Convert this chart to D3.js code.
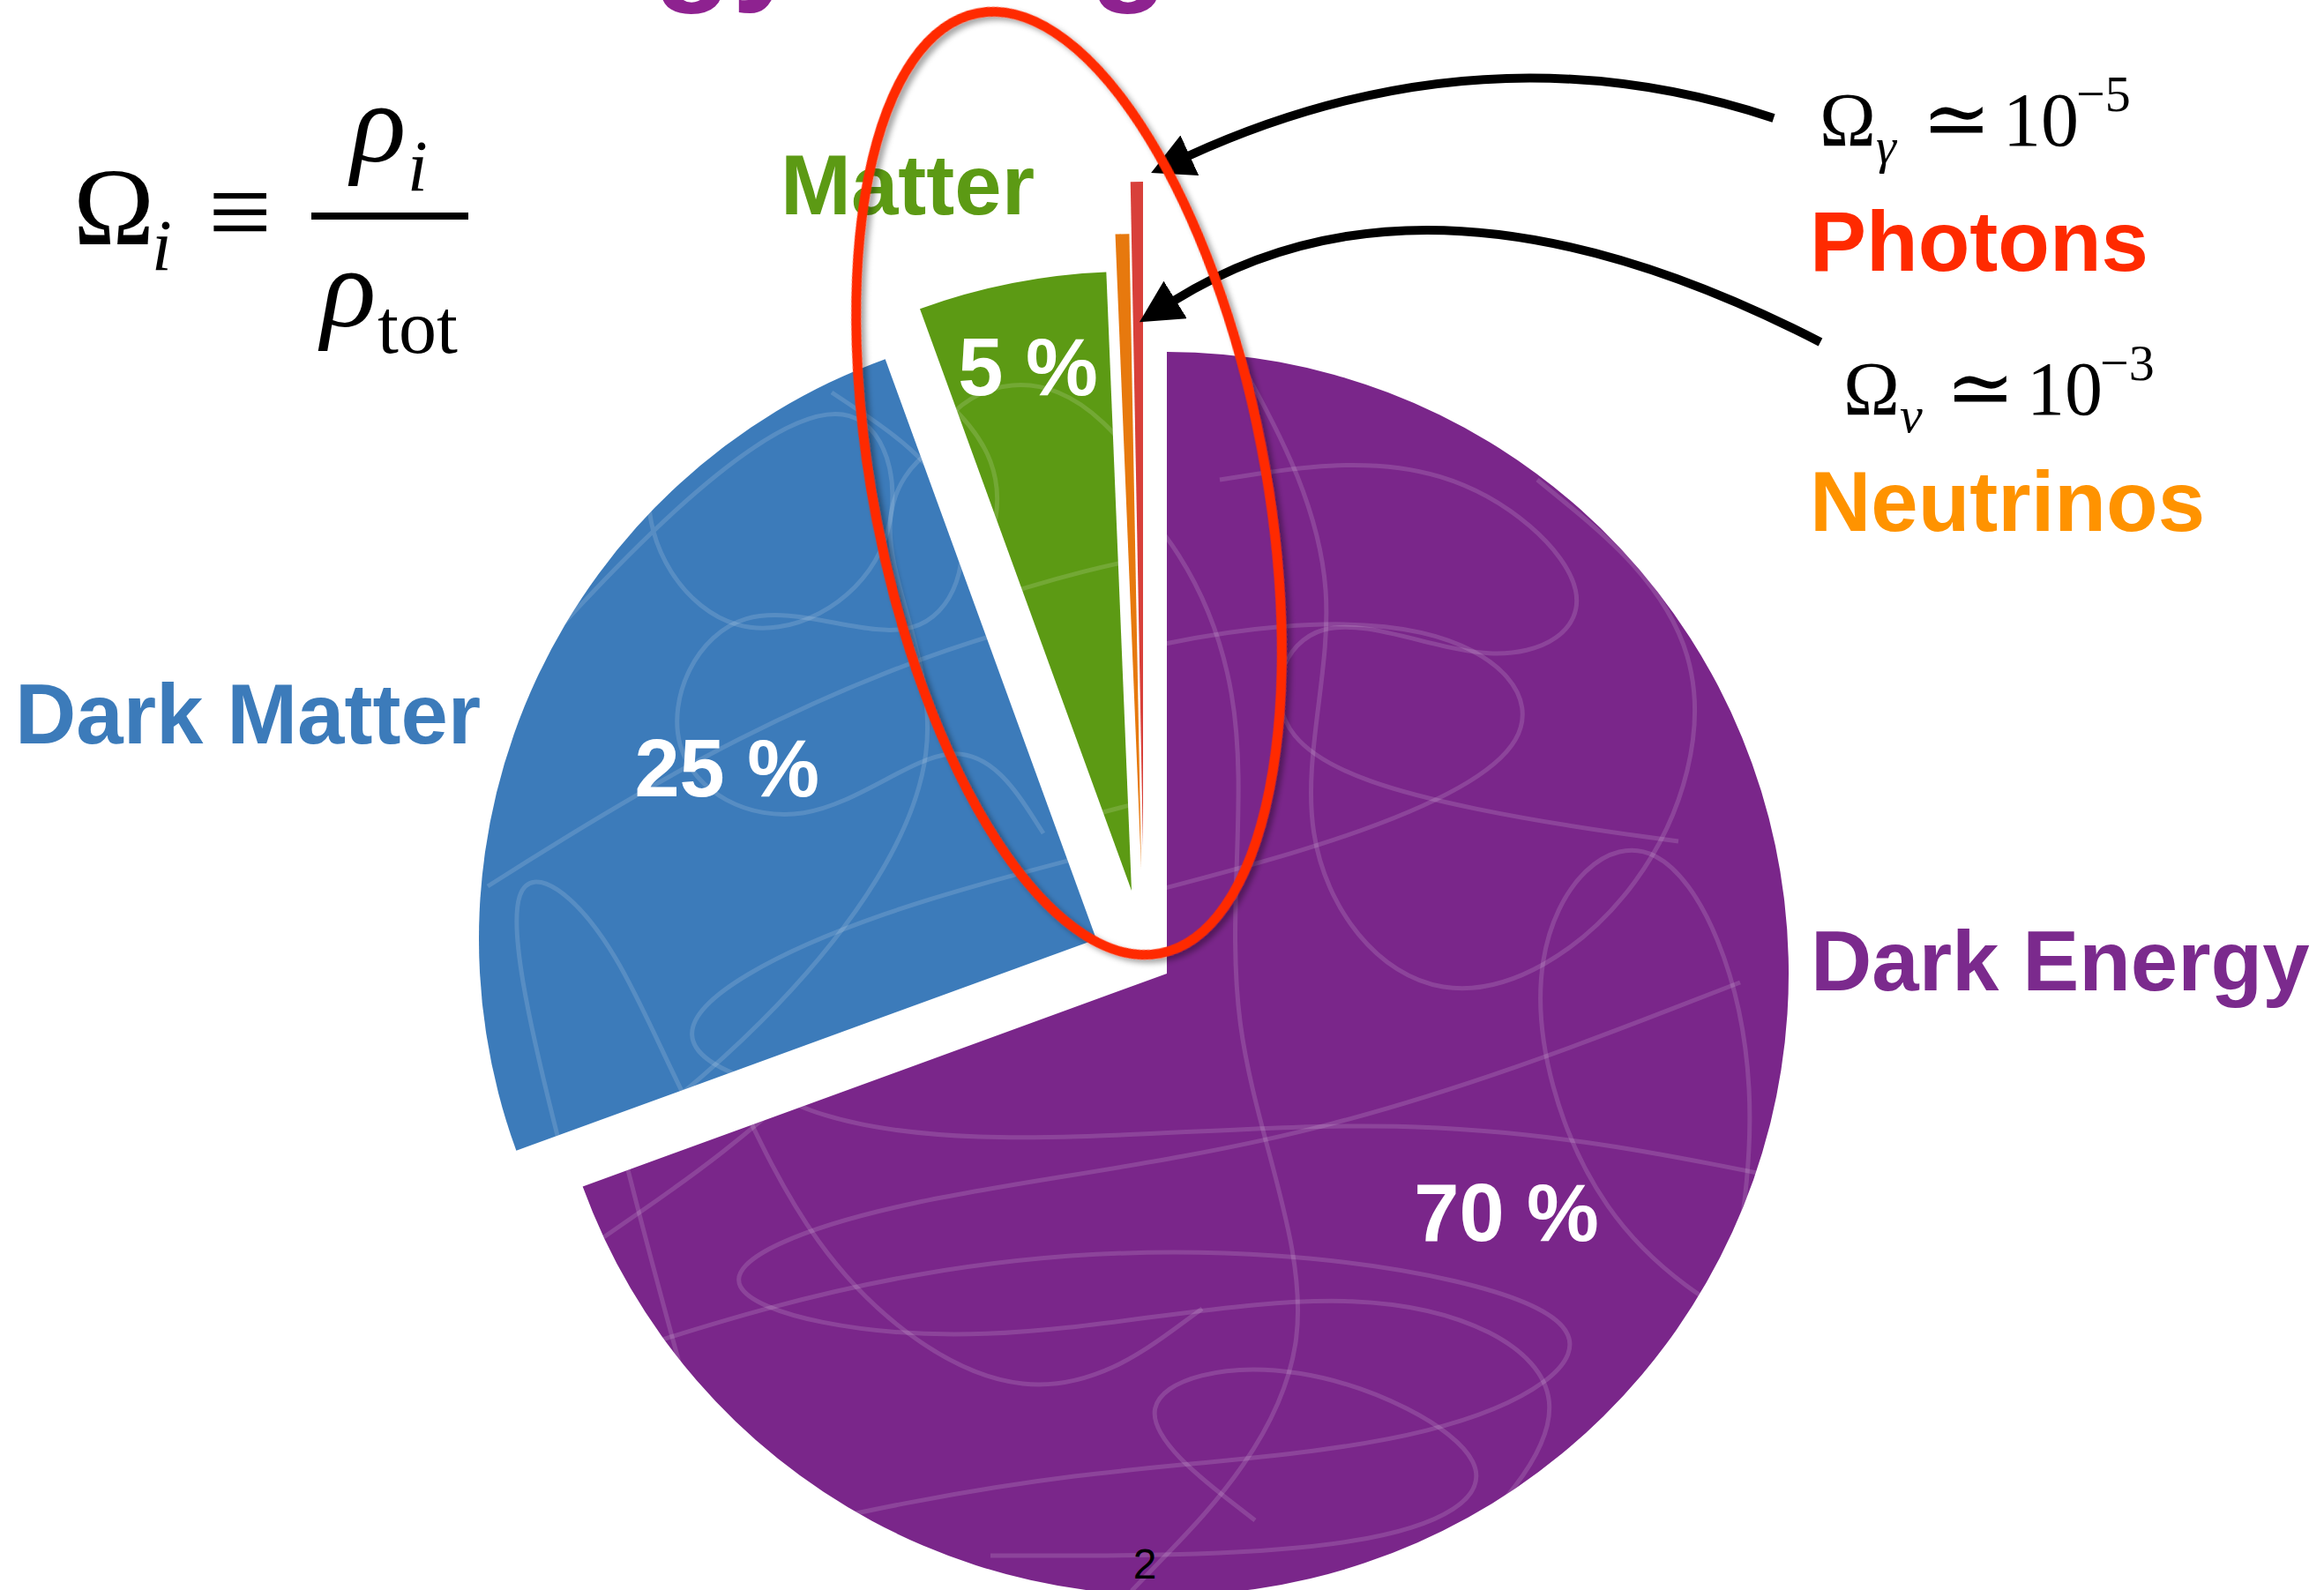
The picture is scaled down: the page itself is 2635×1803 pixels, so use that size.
<!DOCTYPE html>
<html>
<head>
<meta charset="utf-8">
<script src="https://cdn.jsdelivr.net/npm/d3@7/dist/d3.min.js"></script>
<style>
  html, body { margin: 0; padding: 0; background: #fff; overflow: hidden; }
  svg { display: block; }
</style>
</head>
<body>
<svg id="chart"></svg>
<script>
// slices, clockwise from 12 o'clock
const names = ["Dark Energy", "Dark Matter", "Matter", "Neutrinos", "Photons"];
// shares as drawn (the neutrino / photon slivers are enlarged in the picture)
const shares = [69.4, 25, 4.9, 0.35, 0.3];
const percentLabels = ["70 %", "25 %", "5 %", "", ""];
// Omega_x ~ 10^exp for the two slivers
const omegaSymbols = ["γ", "ν"];
const omegaExponents = ["−5", "−3"];
const title = "Energy Budget";

const width = 2635, height = 1803;
const center = [1323, 1104];
const colors = ["#7a268a", "#3c7bba", "#5c9a14", "#e7790e", "#d8403a"];
const labelColors = ["#7b2a8d", "#3c7bba", "#5c9a14", "#ff9300", "#ff2a00"];
const radii = [705, 700, 702, 721, 756];
const shifts = [[0, 0], [-80, -39], [-40, -94], [-29, -118], [-27, -142]];
const pctRadius = [470, 462, 607];
const labelPos = [[2053, 1123], [17, 843], [885, 243], [2052, 602], [2052, 307]];

const sans = "'Liberation Sans', Arial, Helvetica, sans-serif";
const serif = "'Liberation Serif', 'DejaVu Serif', 'Times New Roman', serif";

// background scribble texture (decoration, pie-local coords)
const scribbles = [
  [[-690, -60], [-420, -230], [-60, -380], [330, -420], [470, -260], [160, -130], [-260, -40], [-560, 120], [-250, 210], [280, 150], [690, 230]],
  [[-620, 430], [-300, 330], [120, 300], [560, 390], [330, 540], [-120, 560], [-480, 640]],
  [[80, -700], [220, -440], [120, -150], [300, 80], [560, -80], [640, -380], [420, -560]],
  [[-640, 300], [-380, 120], [-120, -220], [-300, -500], [-80, -640], [120, -330], [40, 60], [220, 430], [-40, 700]],
  [[280, 700], [520, 470], [240, 330], [-220, 440], [-590, 360], [-320, 250], [160, 200], [650, 10]],
  [[-700, -250], [-480, -500], [-250, -660], [-200, -420], [-420, -300], [-560, -520], [-380, -700]],
  [[-520, 560], [-620, 200], [-690, -120], [-540, -20], [-420, 330], [-150, 520], [40, 380]],
  [[600, 520], [700, 120], [560, -220], [380, -40], [480, 300], [700, 420]],
  [[-300, -620], [-120, -500], [-180, -300], [-420, -420], [-520, -200], [-330, -100], [-150, -260], [-60, -120]],
  [[60, -560], [320, -600], [520, -420], [380, -330], [150, -440], [90, -250], [360, -180], [580, -150]],
  [[100, 620], [-80, 480], [140, 420], [420, 560], [260, 660], [-200, 660]]
];

const svg = d3.select("#chart").attr("width", width).attr("height", height);
const defs = svg.append("defs");

const shadow = defs.append("filter").attr("id", "shadow")
  .attr("x", "-10%").attr("y", "-10%").attr("width", "120%").attr("height", "120%");
shadow.append("feDropShadow").attr("dx", 4).attr("dy", 5)
  .attr("stdDeviation", 3).attr("flood-color", "#000").attr("flood-opacity", 0.35);

defs.append("marker")
  .attr("id", "head")
  .attr("markerUnits", "userSpaceOnUse")
  .attr("viewBox", "0 -25 48 50")
  .attr("refX", 2).attr("refY", 0)
  .attr("markerWidth", 48).attr("markerHeight", 50)
  .attr("orient", "auto")
  .append("path")
  .attr("d", "M0,-25L48,0L0,25Z")
  .attr("fill", "#000");

// title (only descenders visible at the top edge)
const titleEl = svg.append("text")
  .attr("y", -15)
  .attr("font-family", sans)
  .attr("font-weight", "bold")
  .attr("font-size", 146)
  .attr("fill", "#8e2290")
  .text(title);
const gX = titleEl.node().getStartPositionOfChar(4).x;
titleEl.attr("x", 741 - gX);

// pie
const pie = d3.pie().sort(null).value((d) => d);
const arcs = pie(shares);
const line = d3.line().curve(d3.curveBasis);

const slices = svg.append("g");
arcs.forEach((a, i) => {
  const arc = d3.arc().innerRadius(0).outerRadius(radii[i]);
  const g = slices.append("g")
    .attr("transform", `translate(${center[0] + shifts[i][0]},${center[1] + shifts[i][1]})`);
  defs.append("clipPath").attr("id", `clip${i}`)
    .append("path").attr("d", arc(a));
  g.append("path").attr("d", arc(a)).attr("fill", colors[i]);
  if (i < 3) {
    g.append("g").attr("clip-path", `url(#clip${i})`)
      .selectAll("path")
      .data(scribbles)
      .join("path")
      .attr("d", line)
      .attr("fill", "none")
      .attr("stroke", "#fff")
      .attr("stroke-opacity", 0.14)
      .attr("stroke-width", 5);
  }
  if (percentLabels[i]) {
    const mid = (a.startAngle + a.endAngle) / 2;
    g.append("text")
      .attr("x", pctRadius[i] * Math.sin(mid))
      .attr("y", -pctRadius[i] * Math.cos(mid))
      .attr("dy", "0.36em")
      .attr("text-anchor", "middle")
      .attr("font-family", sans)
      .attr("font-weight", "bold")
      .attr("font-size", 92)
      .attr("fill", "#fff")
      .text(percentLabels[i]);
  }
});

// category labels
svg.append("g").selectAll("text")
  .data(names)
  .join("text")
  .attr("x", (d, i) => labelPos[i][0])
  .attr("y", (d, i) => labelPos[i][1])
  .attr("font-family", sans)
  .attr("font-weight", "bold")
  .attr("font-size", 96)
  .attr("fill", (d, i) => labelColors[i])
  .text((d) => d);

// Omega labels for photons and neutrinos
const omegaPos = [[2063, 165], [2090, 470]];
omegaSymbols.forEach((s, k) => {
  const [x0, y0] = omegaPos[k];
  const t = svg.append("text")
    .attr("font-family", serif)
    .attr("font-size", 86)
    .attr("fill", "#000");
  t.append("tspan").attr("x", x0).attr("y", y0).text("Ω");
  t.append("tspan").attr("x", x0 + 64).attr("y", y0 + 20)
    .attr("font-size", 58).attr("font-style", "italic").text(s);
  t.append("tspan").attr("x", x0 + 116).attr("y", y0 + 2)
    .attr("font-size", 94).text("≃");
  t.append("tspan").attr("x", x0 + 208).attr("y", y0).text("10");
  t.append("tspan").attr("x", x0 + 291).attr("y", y0 - 39)
    .attr("font-size", 58).text(omegaExponents[k]);
});

// definition  Omega_i = rho_i / rho_tot
const f = svg.append("g").attr("font-family", serif).attr("fill", "#000");
f.append("text").attr("x", 83).attr("y", 277).attr("font-size", 124).text("Ω");
f.append("text").attr("x", 172).attr("y", 306).attr("font-size", 82)
  .attr("font-style", "italic").text("i");
f.append("text").attr("x", 236).attr("y", 283).attr("font-size", 128).text("≡");
f.append("line").attr("x1", 353).attr("x2", 531).attr("y1", 245).attr("y2", 245)
  .attr("stroke", "#000").attr("stroke-width", 8);
f.append("text").attr("x", 398).attr("y", 183).attr("font-size", 130)
  .attr("font-style", "italic").text("ρ");
f.append("text").attr("x", 462).attr("y", 216).attr("font-size", 82)
  .attr("font-style", "italic").text("i");
f.append("text").attr("x", 364).attr("y", 370).attr("font-size", 130)
  .attr("font-style", "italic").text("ρ");
f.append("text").attr("x", 428).attr("y", 400).attr("font-size", 86).text("tot");

// arrows
const arrows = [
  "M2011,134Q1681,25 1347,177",
  "M2064,388Q1622,160 1331,341"
];
svg.append("g").selectAll("path")
  .data(arrows)
  .join("path")
  .attr("d", (d) => d)
  .attr("fill", "none")
  .attr("stroke", "#000")
  .attr("stroke-width", 10)
  .attr("marker-end", "url(#head)");

// highlight ellipse
svg.append("ellipse")
  .attr("cx", 0).attr("cy", 0)
  .attr("rx", 222).attr("ry", 543)
  .attr("transform", "translate(1212,548) rotate(-11)")
  .attr("fill", "none")
  .attr("stroke", "#ff2a00")
  .attr("stroke-width", 11)
  .attr("filter", "url(#shadow)");

// slide number
svg.append("text")
  .attr("x", 1298).attr("y", 1790)
  .attr("text-anchor", "middle")
  .attr("font-family", sans)
  .attr("font-size", 48)
  .attr("fill", "#000")
  .text("2");
</script>
</body>
</html>
